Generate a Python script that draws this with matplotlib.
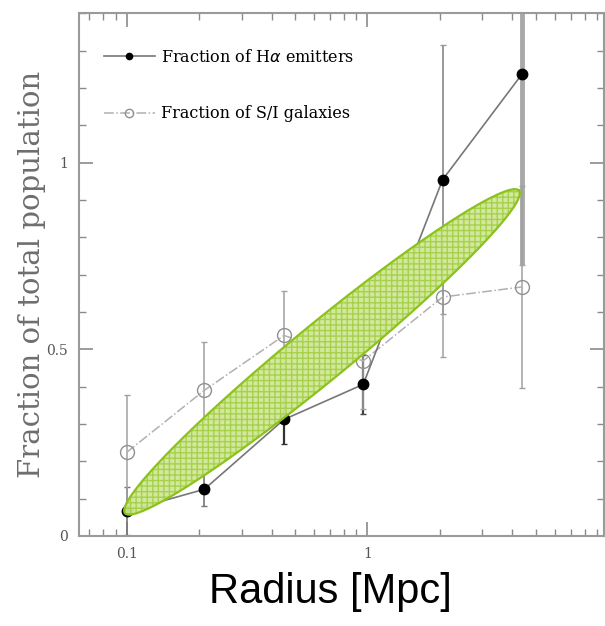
import numpy as np
import matplotlib
matplotlib.use("Agg")
import matplotlib.pyplot as plt
from matplotlib.ticker import FixedLocator, MultipleLocator, NullFormatter

# radius bins [Mpc]
radius = [0.1, 0.21, 0.45, 0.96, 2.05, 4.38]

# fraction of H-alpha emitters
ha_frac = [0.067, 0.125, 0.312, 0.406, 0.954, 1.237]
ha_err = [0.064, 0.046, 0.065, 0.08, 0.36, 0.51]

# fraction of S/I galaxies
si_frac = [0.224, 0.39, 0.537, 0.469, 0.64, 0.667]
si_err = [0.153, 0.13, 0.12, 0.13, 0.16, 0.27]

# ends of the highlighted trend band (data coordinates)
band_start = (0.0984, 0.061)
band_end = (4.26, 0.925)
band_width_px = 56

x_ticks = [0.1, 1]
x_ticklabels = ["0.1", "1"]
y_ticks = [0, 0.5, 1]
y_ticklabels = ["0", "0.5", "1"]

serif = ["DejaVu Serif"]

fig = plt.figure(figsize=(6.05, 6.26), dpi=100)
ax = fig.add_axes([0.1306, 0.1438, 0.8678, 0.835])
ax.set_xscale("log")
ax.set_xlim(0.0634, 9.6)
ax.set_ylim(0, 1.4)

# error bars
ha_lw = [1.2, 1.2, 1.6, 1.6, 1.4, 3.5]
ha_ecol = ["#777777", "#777777", "#333333", "#444444", "#999999", "#a8a8a8"]
for x, y, e, lw, col in zip(radius, ha_frac, ha_err, ha_lw, ha_ecol):
    ax.errorbar(x, y, yerr=e, fmt="none", ecolor=col,
                elinewidth=lw, capsize=2.5, capthick=1, zorder=2)
ax.errorbar(radius, si_frac, yerr=si_err, fmt="none", ecolor="#a0a0a0",
            elinewidth=1.1, capsize=2.5, capthick=1, zorder=2)

ha_line, = ax.plot(radius, ha_frac, "-", color="#777777", lw=1.2, marker="o",
                   ms=7.5, mfc="black", mec="black", zorder=4,
                   label="Fraction of H$\\alpha$ emitters")
si_line, = ax.plot(radius, si_frac, "-.", color="#b0b0b0", lw=1.1, marker="o",
                   ms=10, mfc="none", mec="#909090", mew=1.0, zorder=3,
                   label="Fraction of S/I galaxies")

# ellipse band, built in pixel space so it looks like a drawn ellipse
fig.canvas.draw()
tr = ax.transData
p0 = tr.transform(band_start)
p1 = tr.transform(band_end)
c = (p0 + p1) / 2
d = p1 - p0
a = np.hypot(*d) / 2
b = band_width_px / 2
ang = np.arctan2(d[1], d[0])
t = np.linspace(0, 2 * np.pi, 400)
ex = c[0] + a * np.cos(t) * np.cos(ang) - b * np.sin(t) * np.sin(ang)
ey = c[1] + a * np.cos(t) * np.sin(ang) + b * np.sin(t) * np.cos(ang)
pts = tr.inverted().transform(np.column_stack([ex, ey]))
ax.fill(pts[:, 0], pts[:, 1], facecolor="#d0e79a", edgecolor="#a5d046",
        hatch="+++", lw=0, zorder=5, alpha=0.95)
ax.plot(pts[:, 0], pts[:, 1], color="#8cc21c", lw=1.6, zorder=6)

# axes styling
for s in ax.spines.values():
    s.set_color("#9a9a9a")
    s.set_linewidth(1.5)
ax.xaxis.set_major_locator(FixedLocator(x_ticks))
ax.set_xticklabels(x_ticklabels)
ax.xaxis.set_minor_formatter(NullFormatter())
ax.yaxis.set_major_locator(FixedLocator(y_ticks))
ax.set_yticklabels(y_ticklabels)
ax.yaxis.set_minor_locator(MultipleLocator(0.1))
ax.tick_params(which="both", direction="in", top=True, right=True, colors="#8a8a8a")
ax.tick_params(which="major", length=10, width=1.2, labelsize=10, labelcolor="#555555", pad=8)
ax.tick_params(which="minor", length=5, width=1.0)
for lab in ax.get_xticklabels() + ax.get_yticklabels():
    lab.set_family(serif)

ax.set_ylabel("Fraction of total population", family=serif, fontsize=21,
              color="#6e6e6e", labelpad=0)
ax.set_xlabel("Radius [Mpc]", family=["Liberation Sans", "DejaVu Sans"],
              fontsize=30, color="black")
ax.xaxis.set_label_coords(0.478, -0.068, transform=ax.transAxes)
ax.xaxis.label.set_va("top")

leg = ax.legend(handles=[ha_line, si_line], loc="upper left", frameon=False,
                prop={"family": serif, "size": 11.5}, handlelength=3.2,
                numpoints=1, markerscale=0.6, labelspacing=2.5,
                bbox_to_anchor=(0.02, 0.96), handletextpad=0.4)

fig.savefig("out.png", dpi=100)
